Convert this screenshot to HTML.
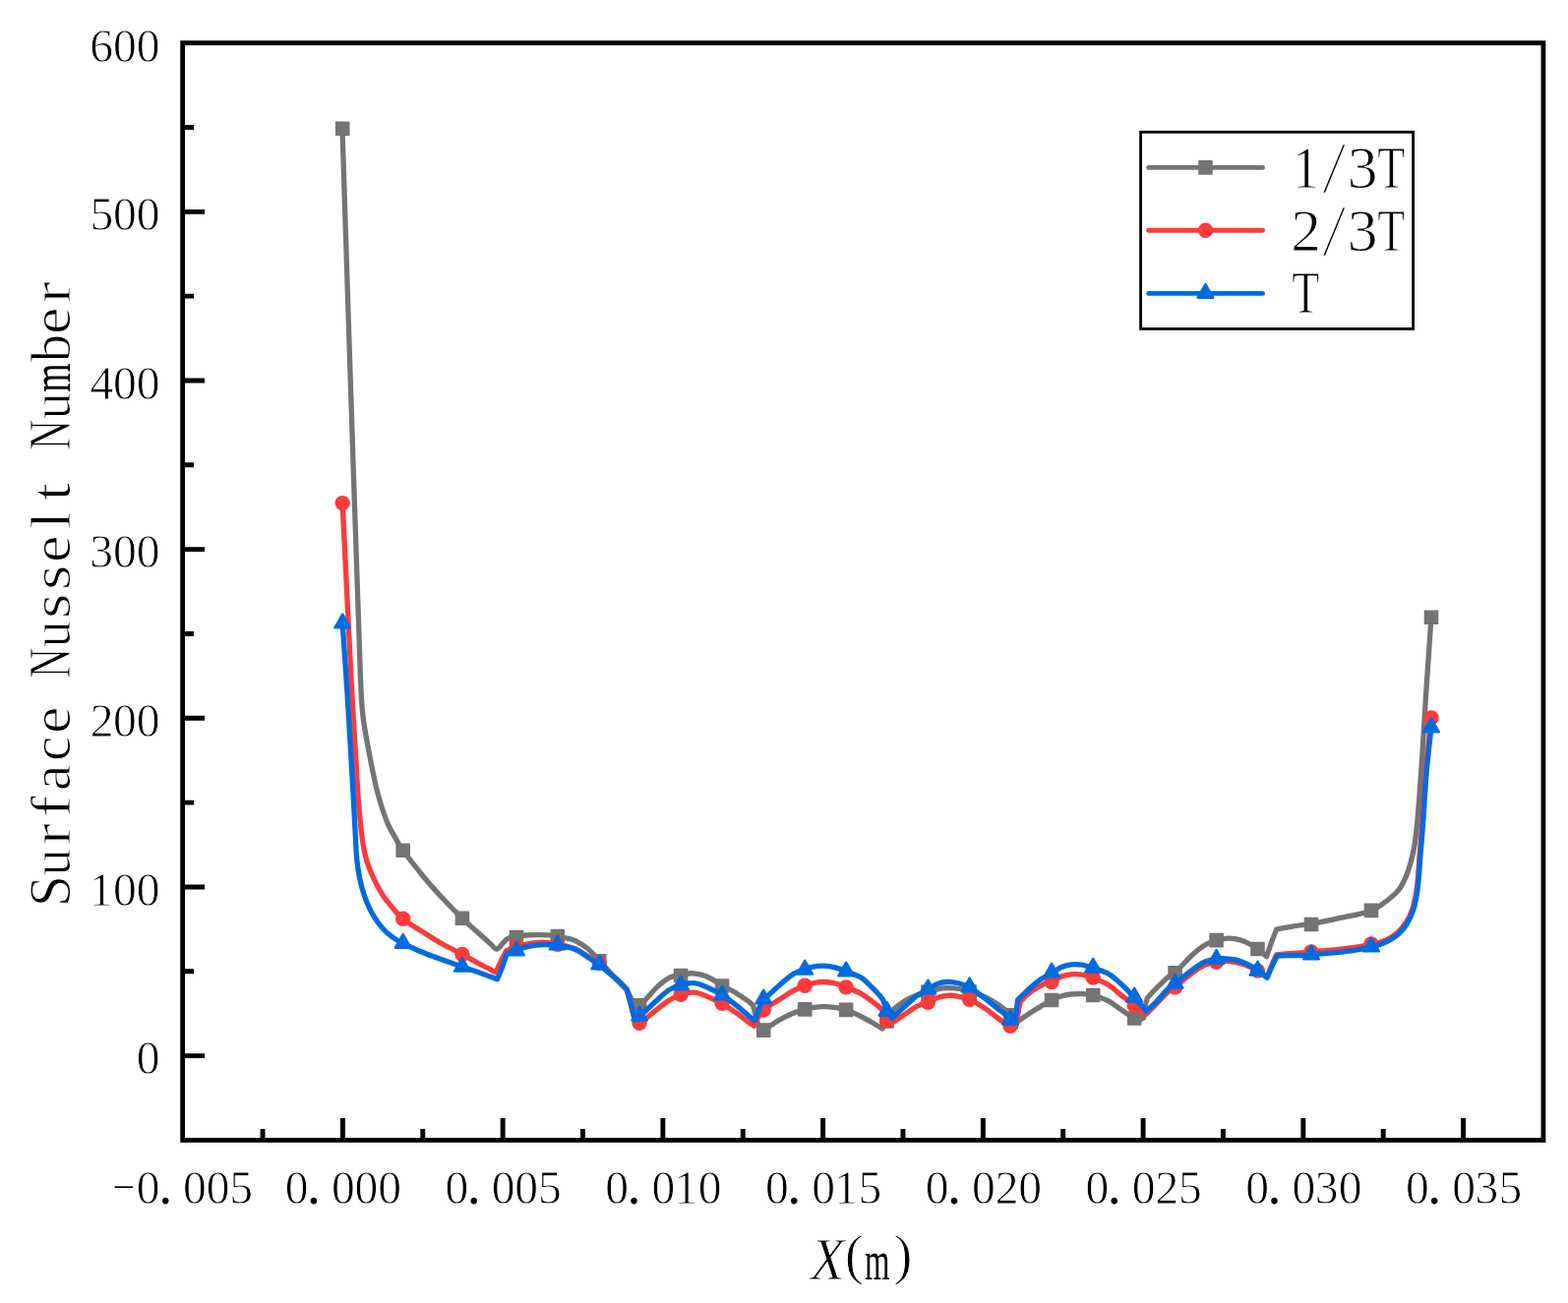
<!DOCTYPE html>
<html lang="en"><head><meta charset="utf-8"><title>Surface Nusselt Number</title>
<style>html,body{margin:0;padding:0;background:#fff}body{width:1594px;height:1325px;overflow:hidden}svg{display:block}text{font-family:"Liberation Serif","Noto Serif CJK SC",serif;fill:#000}.tk{font-size:47.6px;stroke:#fff;stroke-width:.8px;stroke-linejoin:round}.tt{font-size:58px;stroke:#fff;stroke-width:1px;stroke-linejoin:round}.it{font-style:italic}.nt{stroke:none}.sl{stroke-width:2.3px}.hy{stroke-width:2px;stroke-linejoin:miter}</style></head><body>
<svg width="1594" height="1325" viewBox="0 0 1594 1325">
<rect width="1594" height="1325" fill="#fff"/>
<g fill="none" stroke-linejoin="round" stroke-linecap="round" stroke-width="5.3">
<path stroke="#747474" d="M348 130.8C350.9 220.53 353.73 310.27 356.7 400C359.9 496.67 362.9 593.35 366.5 690C366.97 702.55 367.46 715.14 368.9 727.6C370.36 740.24 372.86 752.78 375.2 765.3C377.56 777.88 379.97 790.48 383 802.9C385.07 811.38 387.72 819.73 390.5 828C391.99 832.43 393.78 836.79 395.8 841C397.78 845.12 400.19 849.04 402.5 853C404.82 856.98 406.98 861.09 409.7 864.8C416.68 874.32 424.06 883.6 431.6 892.7C437.66 900 444.03 907.06 450.5 914C456.8 920.76 463.24 927.4 469.9 933.8C476.41 940.06 483.3 945.93 490 952C493.17 954.87 496.33 957.73 499.5 960.6C500.4 961.6 501.19 962.73 502.2 963.6C502.96 964.26 503.94 965.23 504.8 965.2C505.74 965.17 506.67 964 507.6 963.4C508.73 962.03 509.81 960.62 511 959.3C512.28 957.88 513.67 956.57 515 955.2C516.33 954.57 517.59 953.68 519 953.3C520.93 952.78 523 952.79 525 952.5C528.34 952.02 531.65 951.3 535 951C538.65 950.67 542.33 950.62 546 950.6C549.67 950.58 553.34 950.66 557 950.9C560.31 951.12 563.62 951.49 566.9 952C569.62 952.42 572.33 953.02 575 953.7C578.06 954.48 581.26 955.05 584.1 956.4C588.5 958.49 592.93 960.93 596.7 964C601.36 967.79 605.24 972.59 609.4 977C613.58 981.43 617.49 986.11 621.7 990.5C624.36 993.27 627.29 995.77 630 998.5C632.43 1000.94 634.73 1003.5 637.1 1006C638.4 1008.67 639.62 1011.38 641 1014C642.25 1016.38 643.45 1018.85 645 1021C645.62 1021.85 646.67 1022.33 647.5 1023C648.37 1022.83 649.42 1023.03 650.1 1022.5C652.82 1020.36 655.25 1017.58 657.7 1015C661.08 1011.44 663.99 1007.4 667.6 1004.1C671.49 1000.53 675.61 996.86 680.2 994.4C683.77 992.49 688.06 991.74 692.1 991C696.43 990.21 700.95 989.5 705.3 989.8C709.52 990.1 713.89 991.14 717.8 992.8C723.49 995.21 728.66 998.95 734.1 1002C739.12 1004.82 744.28 1007.41 749.2 1010.4C753.48 1013.01 757.68 1015.82 761.7 1018.8C763.12 1019.85 764.23 1021.27 765.5 1022.5C766.17 1025 766.85 1027.49 767.5 1030C768.19 1032.66 768.63 1035.4 769.5 1038C770.3 1040.4 771.09 1043 772.5 1045C773.33 1046.17 774.97 1046.67 776.2 1047.5C778.8 1045.83 781.4 1044.16 784 1042.5C787.03 1040.56 789.96 1038.44 793.1 1036.7C797.19 1034.44 801.38 1032.27 805.7 1030.5C809.75 1028.84 813.98 1027.57 818.2 1026.4C821.41 1025.51 824.7 1024.78 828 1024.3C831.17 1023.84 834.4 1023.55 837.6 1023.6C841.4 1023.65 845.23 1024.05 849 1024.6C852.77 1025.15 856.61 1025.67 860.2 1026.9C865.38 1028.67 870.37 1031.17 875.3 1033.6C879.57 1035.7 883.67 1038.14 887.8 1040.5C890.9 1042.27 893.93 1044.17 897 1046C898.53 1043.5 900.22 1041.08 901.6 1038.5C902.89 1036.08 903.64 1033.37 905 1031C906.01 1029.23 907.47 1027.73 908.7 1026.1C912.53 1023.27 916.15 1020.07 920.2 1017.6C923.58 1015.54 927.31 1013.98 931 1012.5C935.04 1010.88 939.23 1009.57 943.4 1008.3C946.56 1007.34 949.76 1006.39 953 1005.8C956.32 1005.19 959.73 1004.75 963.1 1004.7C967.06 1004.65 971.08 1004.93 975 1005.5C978.71 1006.03 982.43 1006.85 986 1008C991.23 1009.68 996.42 1011.68 1001.4 1014C1005.72 1016.01 1009.87 1018.46 1013.9 1021C1016.74 1022.79 1019.47 1024.81 1022 1027C1023.83 1028.58 1025.38 1030.5 1027 1032.3C1028.38 1033.83 1029.67 1035.43 1031 1037C1031.84 1037.99 1032.67 1039 1033.5 1040C1034.4 1039.2 1035.23 1038.31 1036.2 1037.6C1039.07 1035.48 1042.02 1033.46 1045 1031.5C1048.35 1029.29 1051.76 1027.17 1055.2 1025.1C1059.79 1022.34 1064.33 1019.42 1069.1 1017C1072.26 1015.39 1075.6 1014.01 1079 1013C1082.3 1012.01 1085.77 1011.38 1089.2 1011C1092.77 1010.61 1096.41 1010.54 1100 1010.7C1103.74 1010.87 1107.6 1011.03 1111.2 1012C1116.53 1013.43 1121.89 1015.38 1126.8 1017.9C1131.29 1020.21 1135.17 1023.67 1139.4 1026.5C1143.94 1029.54 1148.31 1033.06 1153.1 1035.5C1154.85 1036.39 1157.09 1036.6 1159 1036.5C1160.22 1036.44 1161.33 1035.5 1162.5 1035C1163.17 1030.67 1163.7 1026.31 1164.5 1022C1164.93 1019.67 1165.63 1017.4 1166.2 1015.1C1168.47 1012.57 1170.66 1009.96 1173 1007.5C1175.32 1005.06 1177.77 1002.74 1180.2 1000.4C1182.51 998.17 1184.7 995.79 1187.2 993.8C1189.47 991.99 1192.36 990.96 1194.5 989C1200.49 983.52 1205.64 977.04 1211.6 971.5C1215.5 967.87 1219.6 964.28 1224.1 961.5C1227.9 959.15 1232.24 957.5 1236.5 956.1C1239.54 955.1 1242.81 954.55 1246 954.3C1249.14 954.05 1252.41 954.06 1255.5 954.6C1258.91 955.19 1262.34 956.27 1265.5 957.7C1270 959.74 1274.41 962.22 1278.5 965C1281.77 967.22 1284.57 970.13 1287.6 972.7C1289.4 967.47 1291.1 962.2 1293 957C1294.47 952.96 1296.13 949 1297.7 945C1302.43 944.1 1307.15 943.11 1311.9 942.3C1316.35 941.54 1320.82 940.85 1325.3 940.3C1327.85 939.99 1330.47 940.17 1333 939.7C1343.81 937.67 1354.56 935.23 1365.3 932.8C1374.93 930.63 1384.96 929.29 1394.1 925.9C1399.59 923.86 1404.48 920.04 1409.2 916.5C1413.68 913.14 1418.24 909.52 1421.7 905.2C1424.94 901.16 1427.21 896.19 1429.3 891.4C1431.41 886.56 1432.9 881.41 1434.3 876.3C1435.77 870.94 1437 865.48 1437.9 860C1439.1 852.72 1439.88 845.35 1440.6 838C1441.65 827.35 1442.41 816.67 1443.2 806C1444.28 791.34 1445.26 776.67 1446.2 762C1447.36 744 1448.32 725.99 1449.5 708C1451.25 681.23 1453.17 654.47 1455 627.7"/>
<g fill="#747474" stroke="none" stroke-width="2.4"><rect x="340.9" y="123.5" width="14.6" height="14.6" rx="0.8"/><rect x="402.4" y="857.5" width="14.6" height="14.6" rx="0.8"/><rect x="462.6" y="926.5" width="14.6" height="14.6" rx="0.8"/><rect x="517.7" y="945.7" width="14.6" height="14.6" rx="0.8"/><rect x="559.5" y="944.7" width="14.6" height="14.6" rx="0.8"/><rect x="602" y="970.1" width="14.6" height="14.6" rx="0.8"/><rect x="642.8" y="1015.1" width="14.6" height="14.6" rx="0.8"/><rect x="684.8" y="984.7" width="14.6" height="14.6" rx="0.8"/><rect x="726.8" y="995.2" width="14.6" height="14.6" rx="0.8"/><rect x="768.9" y="1040.3" width="14.6" height="14.6" rx="0.8"/><rect x="810.9" y="1019.1" width="14.6" height="14.6" rx="0.8"/><rect x="852.8" y="1019.6" width="14.6" height="14.6" rx="0.8"/><rect x="894.3" y="1031.2" width="14.6" height="14.6" rx="0.8"/><rect x="936.1" y="1001.2" width="14.6" height="14.6" rx="0.8"/><rect x="978.3" y="1000.9" width="14.6" height="14.6" rx="0.8"/><rect x="1019.8" y="1025.1" width="14.6" height="14.6" rx="0.8"/><rect x="1061.8" y="1009.7" width="14.6" height="14.6" rx="0.8"/><rect x="1103.9" y="1004.7" width="14.6" height="14.6" rx="0.8"/><rect x="1145.9" y="1028.2" width="14.6" height="14.6" rx="0.8"/><rect x="1187.3" y="982" width="14.6" height="14.6" rx="0.8"/><rect x="1229.3" y="948.8" width="14.6" height="14.6" rx="0.8"/><rect x="1271.2" y="957.7" width="14.6" height="14.6" rx="0.8"/><rect x="1325.7" y="932.7" width="14.6" height="14.6" rx="0.8"/><rect x="1386.7" y="918.6" width="14.6" height="14.6" rx="0.8"/><rect x="1447.7" y="620.4" width="14.6" height="14.6" rx="0.8"/></g>
<path stroke="#fb3a3b" d="M348.2 511.6C351.3 574.4 354.23 637.21 357.5 700C358.63 721.78 360.08 743.53 361.4 765.3C362.41 782.03 363.19 798.79 364.5 815.5C365.49 828.02 366.59 840.57 368.3 853C369.32 860.43 370.61 867.92 372.7 875.1C374.58 881.55 377.36 887.79 380.2 893.9C382.8 899.49 385.69 905.01 389 910.2C391.56 914.21 394.72 917.86 397.8 921.5C401.52 925.89 404.93 930.74 409.4 934.3C417.03 940.37 425.8 945.14 434.1 950.4C439.33 953.71 444.6 956.97 450 960C456.54 963.67 463.29 966.95 469.9 970.5C476.63 974.12 483.26 977.91 490 981.5C494.66 983.98 499.4 986.3 504.1 988.7C505.73 985.13 507.3 981.54 509 978C510.54 974.8 512.16 971.64 513.8 968.5C514.16 967.81 514.6 967.17 515 966.5C518.33 965.33 521.64 964.09 525 963C528.31 961.92 531.61 960.72 535 960C538.34 959.29 541.79 958.91 545.2 958.7C548.79 958.48 552.42 958.45 556 958.7C559.65 958.95 563.31 959.46 566.9 960.2C572.68 961.39 578.66 962.35 584.1 964.5C588.6 966.28 592.58 969.37 596.7 972C600.95 974.71 605.24 977.4 609.2 980.5C613.58 983.93 617.54 987.9 621.7 991.6C624.47 994.06 627.33 996.43 630 999C632.43 1001.33 634.67 1003.87 637 1006.3C638.33 1010.87 639.76 1015.41 641 1020C642.43 1025.31 643.38 1030.77 645 1036C645.55 1037.77 646.67 1039.33 647.5 1041C648.43 1040.73 649.48 1040.71 650.3 1040.2C652.98 1038.54 655.48 1036.46 658 1034.5C661.25 1031.96 664.34 1029.22 667.6 1026.7C671.74 1023.49 675.77 1020.06 680.2 1017.3C683.94 1014.96 687.93 1012.76 692.1 1011.4C696.3 1010.03 700.96 1008.85 705.3 1009.1C709.53 1009.35 713.77 1011.28 717.8 1012.9C723.17 1015.05 728.45 1017.57 733.5 1020.4C738.92 1023.44 744.09 1026.95 749.2 1030.5C753.49 1033.48 757.47 1036.92 761.7 1040C763.27 1041.15 764.97 1042.13 766.6 1043.2C768.07 1040.13 769.28 1036.91 771 1034C772.48 1031.51 774.47 1029.33 776.2 1027C778.8 1025.17 781.34 1023.23 784 1021.5C786.97 1019.57 790.1 1017.88 793.1 1016C797.33 1013.35 801.34 1010.3 805.7 1007.9C809.7 1005.7 813.93 1003.81 818.2 1002.2C821.36 1001.01 824.68 1000.13 828 999.5C831.15 998.9 834.41 998.42 837.6 998.5C841.41 998.59 845.29 999.11 849 1000C852.82 1000.91 856.53 1002.45 860.2 1003.9C865.29 1005.91 870.53 1007.76 875.3 1010.4C879.73 1012.86 883.71 1016.16 887.8 1019.2C890.31 1021.06 892.97 1022.86 895.1 1025.1C896.7 1026.79 897.94 1028.91 899 1031C900.07 1033.11 900.37 1035.65 901.5 1037.7C902.2 1038.98 903.5 1039.9 904.5 1041C906.33 1040 908.24 1039.11 910 1038C913.47 1035.81 916.79 1033.38 920.2 1031.1C924.02 1028.55 927.64 1025.58 931.7 1023.5C935.37 1021.62 939.58 1020.82 943.4 1019.2C946.68 1017.82 949.66 1015.67 953 1014.5C956.23 1013.37 959.7 1012.49 963.1 1012.3C967.03 1012.09 971.11 1012.58 975 1013.3C978.54 1013.95 982.13 1014.9 985.4 1016.4C990.93 1018.93 996.29 1022.06 1001.4 1025.4C1005.79 1028.26 1009.66 1031.9 1013.9 1035C1016.53 1036.93 1019.24 1038.76 1022 1040.5C1023.64 1041.53 1025.31 1042.62 1027.1 1043.3C1028.81 1043.95 1030.7 1044.1 1032.5 1044.5C1033.33 1039.67 1034.15 1034.83 1035 1030C1035.65 1026.33 1036.33 1022.67 1037 1019C1039 1016.83 1040.81 1014.45 1043 1012.5C1045.67 1010.12 1048.61 1007.97 1051.6 1006C1054.27 1004.24 1057.08 1002.59 1060 1001.3C1062.91 1000.02 1066.18 999.57 1069.1 998.3C1072.52 996.81 1075.52 994.28 1079 993C1082.22 991.81 1085.76 991.19 1089.2 990.9C1092.76 990.59 1096.46 990.68 1100 991.2C1103.69 991.74 1107.41 992.75 1110.9 994.1C1116.34 996.21 1121.84 998.55 1126.8 1001.6C1131.34 1004.39 1135.21 1008.26 1139.4 1011.6C1143.87 1015.16 1148.31 1018.77 1152.8 1022.3C1154.84 1023.9 1156.89 1025.49 1159 1027C1161.03 1028.46 1163.13 1029.8 1165.2 1031.2C1167.47 1028.97 1169.77 1026.76 1172 1024.5C1174.77 1021.7 1177.44 1018.81 1180.2 1016C1182.68 1013.48 1185.04 1010.81 1187.7 1008.5C1189.84 1006.64 1192.37 1005.26 1194.6 1003.5C1200.33 998.99 1205.75 994.04 1211.6 989.7C1215.58 986.74 1219.65 983.68 1224.1 981.6C1227.98 979.78 1232.37 978.83 1236.6 978C1239.67 977.4 1242.87 977.23 1246 977.3C1249.17 977.37 1252.39 977.74 1255.5 978.4C1259.73 979.3 1263.97 980.45 1268 982C1271.6 983.38 1275.04 985.28 1278.4 987.2C1281.74 989.11 1284.87 991.4 1288.1 993.5C1289.73 989.33 1291.28 985.13 1293 981C1294.41 977.63 1296 974.33 1297.5 971C1302.3 970.5 1307.09 969.93 1311.9 969.5C1315.26 969.2 1318.63 969.04 1322 968.8C1325.67 968.54 1329.34 968.32 1333 968C1343.77 967.05 1354.57 966.33 1365.3 965C1374.74 963.83 1384.19 962.41 1393.5 960.5C1398.82 959.41 1404.32 958.25 1409.2 956C1413.72 953.92 1418.02 950.86 1421.7 947.5C1424.96 944.53 1427.7 940.78 1430 937C1432.46 932.95 1434.53 928.51 1436 924C1437.79 918.51 1438.82 912.71 1439.8 907C1440.68 901.85 1441.12 896.61 1441.6 891.4C1442.19 884.94 1442.51 878.46 1443 872C1443.31 868 1443.68 864 1444 860C1444.68 851.33 1445.38 842.67 1446 834C1447.21 817 1448.03 799.97 1449.5 783C1451.03 765.31 1453.17 747.67 1455 730"/>
<g fill="#fb3a3b" stroke="none" stroke-width="2.4"><circle cx="348.2" cy="511.6" r="7.7"/><circle cx="409.7" cy="934.3" r="7.7"/><circle cx="469.9" cy="970.5" r="7.7"/><circle cx="525" cy="963.3" r="7.7"/><circle cx="566.8" cy="960.2" r="7.7"/><circle cx="609.3" cy="979.6" r="7.7"/><circle cx="650.1" cy="1040.3" r="7.7"/><circle cx="692.1" cy="1011.4" r="7.7"/><circle cx="734.1" cy="1020.4" r="7.7"/><circle cx="776.2" cy="1027.1" r="7.7"/><circle cx="818.2" cy="1002.2" r="7.7"/><circle cx="860.1" cy="1003.9" r="7.7"/><circle cx="901.6" cy="1037.8" r="7.7"/><circle cx="943.4" cy="1019.2" r="7.7"/><circle cx="985.6" cy="1016.4" r="7.7"/><circle cx="1027.1" cy="1043.2" r="7.7"/><circle cx="1069.1" cy="998.5" r="7.7"/><circle cx="1111.2" cy="994.1" r="7.7"/><circle cx="1153.2" cy="1022.5" r="7.7"/><circle cx="1194.6" cy="1003.9" r="7.7"/><circle cx="1236.6" cy="978.4" r="7.7"/><circle cx="1278.5" cy="987.1" r="7.7"/><circle cx="1333" cy="968" r="7.7"/><circle cx="1394" cy="959.9" r="7.7"/><circle cx="1455" cy="730" r="7.7"/></g>
<path stroke="#006be0" d="M348.2 634C349.7 656 351.29 677.99 352.7 700C354.09 721.76 355.32 743.53 356.6 765.3C357.59 782.03 358.56 798.76 359.5 815.5C360.2 828 360.79 840.5 361.5 853C361.92 860.37 362.13 867.77 362.9 875.1C363.56 881.4 364.51 887.7 365.8 893.9C366.94 899.4 368.4 904.88 370.2 910.2C371.94 915.35 373.97 920.45 376.4 925.3C378.57 929.65 381.16 933.86 384 937.8C386.59 941.39 389.51 944.84 392.7 947.9C395.35 950.44 398.45 952.54 401.5 954.6C404.12 956.37 406.88 957.97 409.7 959.4C414.71 961.94 419.83 964.29 425 966.5C430.9 969.02 436.88 971.38 442.9 973.6C451.98 976.95 461.15 980.04 470.3 983.2C476.85 985.47 483.47 987.56 490 989.9C495.2 991.76 500.33 993.83 505.5 995.8C507 992.2 508.65 988.66 510 985C511.85 979.99 513.4 974.87 515.1 969.8C518.4 968.53 521.66 967.16 525 966C528.36 964.83 531.74 963.64 535.2 962.8C538.48 962 541.84 961.47 545.2 961.1C548.78 960.7 552.4 960.47 556 960.5C559.5 960.53 563.05 960.72 566.5 961.3C572.41 962.29 578.55 963.1 584.1 965.2C588.62 966.9 592.59 970.06 596.7 972.7C600.85 975.36 604.96 978.13 608.9 981.1C613.3 984.43 617.49 988.03 621.7 991.6C624.53 994 627.3 996.46 630 999C632.44 1001.29 634.73 1003.73 637.1 1006.1C638.4 1010.73 639.75 1015.35 641 1020C642.52 1025.65 643.93 1031.33 645.4 1037C646.97 1035.73 648.56 1034.49 650.1 1033.2C652.66 1031.06 655.23 1028.94 657.7 1026.7C661.07 1023.64 664.21 1020.33 667.6 1017.3C671.71 1013.63 675.63 1009.57 680.2 1006.6C683.89 1004.2 688.16 1002.37 692.4 1001.2C696.53 1000.07 701.08 999.32 705.3 999.7C709.55 1000.08 713.81 1001.8 717.8 1003.5C723.51 1005.93 729.11 1008.83 734.4 1012.1C739.58 1015.3 744.4 1019.13 749.2 1022.9C753.5 1026.27 757.49 1030.02 761.7 1033.5C763.46 1034.95 765.3 1036.3 767.1 1037.7C768.57 1033.97 770.01 1030.22 771.5 1026.5C772.64 1023.66 773.83 1020.83 775 1018C778 1015.17 780.97 1012.3 784 1009.5C787 1006.73 790 1003.96 793.1 1001.3C797.23 997.76 801.14 993.77 805.7 990.9C809.5 988.51 813.94 987.05 818.2 985.5C821.38 984.35 824.68 983.38 828 982.8C831.15 982.25 834.41 981.95 837.6 982.1C841.41 982.28 845.28 982.9 849 983.8C852.75 984.7 856.4 986.09 860 987.5C865.17 989.52 870.69 991.13 875.3 994.1C879.96 997.1 883.75 1001.52 887.8 1005.4C889.98 1007.49 892.01 1009.73 894 1012C895.28 1013.46 896.4 1015.07 897.6 1016.6C898.9 1020.07 899.88 1023.69 901.5 1027C902.91 1029.89 904.97 1032.47 906.7 1035.2C908.8 1033.3 910.89 1031.39 913 1029.5C915.39 1027.36 917.8 1025.23 920.2 1023.1C924.03 1019.7 927.59 1015.91 931.7 1012.9C935.32 1010.25 939.5 1008.37 943.4 1006.1C946.6 1004.24 949.59 1001.82 953 1000.5C956.16 999.28 959.71 998.58 963.1 998.5C967.05 998.41 971.15 999.05 975 1000C978.68 1000.91 982.43 1002.19 985.7 1004.1C991.23 1007.32 996.26 1011.52 1001.4 1015.4C1005.66 1018.62 1009.7 1022.11 1013.9 1025.4C1016.56 1027.48 1019.37 1029.39 1022 1031.5C1023.77 1032.92 1025.22 1034.8 1027.1 1036C1028.62 1036.97 1030.5 1037.33 1032.2 1038C1032.97 1031 1033.73 1024 1034.5 1017C1038.1 1013.5 1041.57 1009.86 1045.3 1006.5C1049.34 1002.86 1053.37 999.11 1057.8 996C1061.3 993.54 1065.4 991.98 1069.1 989.8C1072.47 987.81 1075.47 985.06 1079 983.5C1082.17 982.1 1085.75 981.28 1089.2 980.9C1092.75 980.51 1096.47 980.65 1100 981.2C1103.7 981.78 1107.33 983.09 1110.9 984.3C1116.26 986.12 1121.92 987.56 1126.8 990.3C1131.42 992.89 1135.45 996.69 1139.4 1000.3C1144.25 1004.73 1148.67 1009.63 1153.2 1014.4C1155.54 1016.86 1157.77 1019.44 1160 1022C1161.77 1024.04 1163.47 1026.13 1165.2 1028.2C1168.53 1025.17 1172.06 1022.32 1175.2 1019.1C1179.56 1014.62 1183.26 1009.47 1187.7 1005.1C1189.73 1003.1 1192.34 1001.75 1194.6 1000C1200.31 995.58 1205.78 990.86 1211.6 986.6C1215.62 983.66 1219.62 980.42 1224.1 978.4C1227.96 976.66 1232.38 975.99 1236.6 975.3C1239.68 974.79 1242.87 974.7 1246 974.8C1249.17 974.9 1252.43 975.13 1255.5 975.9C1259.76 976.96 1264.05 978.39 1268 980.3C1271.69 982.09 1275.01 984.66 1278.4 987C1281.71 989.29 1284.87 991.8 1288.1 994.2C1289.73 990.47 1291.31 986.71 1293 983C1294.68 979.31 1296.47 975.67 1298.2 972C1302.77 971.83 1307.33 971.59 1311.9 971.5C1315.53 971.43 1319.17 971.62 1322.8 971.5C1326.2 971.39 1329.6 971.09 1333 970.8C1343.77 969.89 1354.58 969.25 1365.3 967.9C1374.88 966.69 1384.5 965.24 1393.9 963.1C1399.14 961.91 1404.39 960.22 1409.2 957.9C1413.65 955.75 1418.01 952.97 1421.7 949.7C1425.11 946.67 1428.1 942.9 1430.5 939C1433.13 934.73 1435.26 929.98 1436.8 925.2C1438.62 919.55 1439.63 913.58 1440.6 907.7C1441.49 902.31 1441.92 896.84 1442.4 891.4C1442.95 885.11 1443.22 878.8 1443.7 872.5C1444.02 868.33 1444.46 864.17 1444.8 860C1445.5 851.44 1446.18 842.87 1446.8 834.3C1448.02 817.34 1448.83 800.34 1450.3 783.4C1451.56 768.91 1453.43 754.47 1455 740"/>
<g fill="#006be0" stroke="#006be0" stroke-width="2.4"><path d="M348.2 624.6L356 638.3L340.4 638.3Z"/><path d="M409.7 950L417.5 963.7L401.9 963.7Z"/><path d="M469.9 973.8L477.7 987.5L462.1 987.5Z"/><path d="M525 957.6L532.8 971.3L517.2 971.3Z"/><path d="M566.8 951.7L574.6 965.4L559 965.4Z"/><path d="M609.3 971.7L617.1 985.4L601.5 985.4Z"/><path d="M650.1 1023.8L657.9 1037.5L642.3 1037.5Z"/><path d="M692.1 992.7L699.9 1006.4L684.3 1006.4Z"/><path d="M734.1 1002.7L741.9 1016.4L726.3 1016.4Z"/><path d="M776.2 1006.7L784 1020.4L768.4 1020.4Z"/><path d="M818.2 976.8L826 990.5L810.4 990.5Z"/><path d="M860.1 978.6L867.9 992.3L852.3 992.3Z"/><path d="M901.6 1019L909.4 1032.7L893.8 1032.7Z"/><path d="M943.4 996.7L951.2 1010.4L935.6 1010.4Z"/><path d="M985.6 994.7L993.4 1008.4L977.8 1008.4Z"/><path d="M1027.1 1027.9L1034.9 1041.6L1019.3 1041.6Z"/><path d="M1069.1 979.9L1076.9 993.6L1061.3 993.6Z"/><path d="M1111.2 974.9L1119 988.6L1103.4 988.6Z"/><path d="M1153.2 1004.8L1161 1018.5L1145.4 1018.5Z"/><path d="M1194.6 991L1202.4 1004.7L1186.8 1004.7Z"/><path d="M1236.6 966.1L1244.4 979.8L1228.8 979.8Z"/><path d="M1278.5 977.8L1286.3 991.5L1270.7 991.5Z"/><path d="M1333 961.6L1340.8 975.3L1325.2 975.3Z"/><path d="M1394 953.7L1401.8 967.4L1386.2 967.4Z"/><path d="M1455 730.6L1462.8 744.3L1447.2 744.3Z"/></g>
</g>
<g stroke="#000" stroke-width="4.8" fill="none" stroke-linecap="butt">
<rect x="185.66" y="43.7" width="1383.29" height="1115.72"/>
<path stroke-width="4.9" d="M348.4 1159.42V1137.02M511.14 1159.42V1137.02M673.88 1159.42V1137.02M836.62 1159.42V1137.02M999.36 1159.42V1137.02M1162.1 1159.42V1137.02M1324.84 1159.42V1137.02M1487.58 1159.42V1137.02M267.03 1159.42V1148.02M429.77 1159.42V1148.02M592.51 1159.42V1148.02M755.25 1159.42V1148.02M917.99 1159.42V1148.02M1080.73 1159.42V1148.02M1243.47 1159.42V1148.02M1406.21 1159.42V1148.02M185.66 1073.6H208.06M185.66 901.95H208.06M185.66 730.3H208.06M185.66 558.65H208.06M185.66 387H208.06M185.66 215.35H208.06M185.66 987.77H197.06M185.66 816.12H197.06M185.66 644.47H197.06M185.66 472.82H197.06M185.66 301.17H197.06M185.66 129.52H197.06"/>
</g>
<g>
<text class="tk"><tspan x="138.7" y="1092.4">0</tspan></text>
<text class="tk"><tspan x="90.84" y="920.75">1</tspan><tspan x="115.1" y="920.75">0</tspan><tspan x="138.7" y="920.75">0</tspan></text>
<text class="tk"><tspan x="91.77" y="749.1">2</tspan><tspan x="115.1" y="749.1">0</tspan><tspan x="138.7" y="749.1">0</tspan></text>
<text class="tk"><tspan x="91.29" y="577.45">3</tspan><tspan x="115.1" y="577.45">0</tspan><tspan x="138.7" y="577.45">0</tspan></text>
<text class="tk"><tspan x="91.41" y="405.8">4</tspan><tspan x="115.1" y="405.8">0</tspan><tspan x="138.7" y="405.8">0</tspan></text>
<text class="tk"><tspan x="91.55" y="234.15">5</tspan><tspan x="115.1" y="234.15">0</tspan><tspan x="138.7" y="234.15">0</tspan></text>
<text class="tk"><tspan x="91.19" y="62.5">6</tspan><tspan x="115.1" y="62.5">0</tspan><tspan x="138.7" y="62.5">0</tspan></text>
<text class="tk"><tspan x="111.59" y="1218.9" textLength="28.46" lengthAdjust="spacingAndGlyphs" class="hy">-</tspan><tspan x="138.86" y="1223.5">0</tspan><tspan x="161.16" y="1223.5" class="nt" font-size="56">.</tspan><tspan x="186.06" y="1223.5">0</tspan><tspan x="209.66" y="1223.5">0</tspan><tspan x="233.31" y="1223.5">5</tspan></text>
<text class="tk"><tspan x="289.8" y="1223.5">0</tspan><tspan x="312.1" y="1223.5" class="nt" font-size="56">.</tspan><tspan x="337" y="1223.5">0</tspan><tspan x="360.6" y="1223.5">0</tspan><tspan x="384.2" y="1223.5">0</tspan></text>
<text class="tk"><tspan x="452.54" y="1223.5">0</tspan><tspan x="474.84" y="1223.5" class="nt" font-size="56">.</tspan><tspan x="499.74" y="1223.5">0</tspan><tspan x="523.34" y="1223.5">0</tspan><tspan x="546.99" y="1223.5">5</tspan></text>
<text class="tk"><tspan x="615.28" y="1223.5">0</tspan><tspan x="637.58" y="1223.5" class="nt" font-size="56">.</tspan><tspan x="662.48" y="1223.5">0</tspan><tspan x="685.42" y="1223.5">1</tspan><tspan x="709.68" y="1223.5">0</tspan></text>
<text class="tk"><tspan x="778.02" y="1223.5">0</tspan><tspan x="800.32" y="1223.5" class="nt" font-size="56">.</tspan><tspan x="825.22" y="1223.5">0</tspan><tspan x="848.16" y="1223.5">1</tspan><tspan x="872.47" y="1223.5">5</tspan></text>
<text class="tk"><tspan x="940.76" y="1223.5">0</tspan><tspan x="963.06" y="1223.5" class="nt" font-size="56">.</tspan><tspan x="987.96" y="1223.5">0</tspan><tspan x="1011.83" y="1223.5">2</tspan><tspan x="1035.16" y="1223.5">0</tspan></text>
<text class="tk"><tspan x="1103.5" y="1223.5">0</tspan><tspan x="1125.8" y="1223.5" class="nt" font-size="56">.</tspan><tspan x="1150.7" y="1223.5">0</tspan><tspan x="1174.57" y="1223.5">2</tspan><tspan x="1197.95" y="1223.5">5</tspan></text>
<text class="tk"><tspan x="1266.24" y="1223.5">0</tspan><tspan x="1288.54" y="1223.5" class="nt" font-size="56">.</tspan><tspan x="1313.44" y="1223.5">0</tspan><tspan x="1336.83" y="1223.5">3</tspan><tspan x="1360.64" y="1223.5">0</tspan></text>
<text class="tk"><tspan x="1428.98" y="1223.5">0</tspan><tspan x="1451.28" y="1223.5" class="nt" font-size="56">.</tspan><tspan x="1476.18" y="1223.5">0</tspan><tspan x="1499.57" y="1223.5">3</tspan><tspan x="1523.43" y="1223.5">5</tspan></text>
</g>
<text class="tt" transform="translate(71 920.5) rotate(-90)"><tspan x="-1.52" y="0" textLength="31.76" lengthAdjust="spacingAndGlyphs" font-size="61.5">S</tspan><tspan x="29.98" y="0" textLength="27.25" lengthAdjust="spacingAndGlyphs" font-size="57">u</tspan><tspan x="61.22" y="0" textLength="21.83" lengthAdjust="spacingAndGlyphs" font-size="57">r</tspan><tspan x="89.58" y="0" textLength="21.83" lengthAdjust="spacingAndGlyphs" font-size="57">f</tspan><tspan x="116.36" y="0" textLength="26.97" lengthAdjust="spacingAndGlyphs" font-size="57">a</tspan><tspan x="146.64" y="0" font-size="57">c</tspan><tspan x="174.63" y="0" textLength="27.46" lengthAdjust="spacingAndGlyphs" font-size="57">e</tspan> <tspan x="231.03" y="0" textLength="30.7" lengthAdjust="spacingAndGlyphs" font-size="61.5">N</tspan><tspan x="261.98" y="0" textLength="27.25" lengthAdjust="spacingAndGlyphs" font-size="57">u</tspan><tspan x="291.59" y="0" textLength="25.51" lengthAdjust="spacingAndGlyphs" font-size="57">s</tspan><tspan x="320.59" y="0" textLength="25.51" lengthAdjust="spacingAndGlyphs" font-size="57">s</tspan><tspan x="348.63" y="0" textLength="27.46" lengthAdjust="spacingAndGlyphs" font-size="57">e</tspan><tspan x="382.39" y="0" textLength="18.21" lengthAdjust="spacingAndGlyphs" font-size="57">l</tspan><tspan x="411.27" y="0" textLength="18.21" lengthAdjust="spacingAndGlyphs" font-size="57">t</tspan> <tspan x="463.03" y="0" textLength="30.7" lengthAdjust="spacingAndGlyphs" font-size="61.5">N</tspan><tspan x="493.98" y="0" textLength="27.25" lengthAdjust="spacingAndGlyphs" font-size="57">u</tspan><tspan x="521.71" y="0" textLength="29.38" lengthAdjust="spacingAndGlyphs" class="nt" font-size="57">m</tspan><tspan x="552.34" y="0" font-size="57">b</tspan><tspan x="580.63" y="0" textLength="27.46" lengthAdjust="spacingAndGlyphs" font-size="57">e</tspan><tspan x="612.22" y="0" textLength="21.83" lengthAdjust="spacingAndGlyphs" font-size="57">r</tspan></text>
<text class="tt"><tspan x="824.09" y="1300.5" textLength="34.78" lengthAdjust="spacingAndGlyphs" class="it" font-size="61.5">X</tspan><tspan x="858.65" y="1295">(</tspan><tspan x="878.91" y="1300.5" textLength="25.5" lengthAdjust="spacingAndGlyphs" class="nt" font-size="57">m</tspan><tspan x="908.23" y="1295">)</tspan></text>
<rect x="1159.6" y="134.3" width="277" height="200.1" fill="#fff" stroke="#000" stroke-width="2.8"/>
<g stroke-linecap="round" stroke-width="4.9" fill="none">
<path stroke="#747474" d="M1167.6 170.4H1283.6"/>
<g fill="#747474" stroke="none" stroke-width="2.4" stroke-linejoin="round"><rect x="1218.2" y="163.1" width="14.6" height="14.6" rx="0.8"/></g>
<path stroke="#fb3a3b" d="M1167.6 234.3H1283.6"/>
<g fill="#fb3a3b" stroke="none" stroke-width="2.4" stroke-linejoin="round"><circle cx="1225.5" cy="234.3" r="7.7"/></g>
<path stroke="#006be0" d="M1167.6 298.4H1283.6"/>
<g fill="#006be0" stroke="#006be0" stroke-width="2.4" stroke-linejoin="round"><path d="M1225.5 289L1233.3 302.7L1217.7 302.7Z"/></g>
</g>
<text class="tt"><tspan x="1314.33" y="191.2" textLength="26.27" lengthAdjust="spacingAndGlyphs" font-size="61.5">1</tspan><tspan x="1343.55" y="196.2" textLength="25.5" lengthAdjust="spacingAndGlyphs" class="sl" font-size="76">/</tspan><tspan x="1369.65" y="191.2" font-size="61.5">3</tspan><tspan x="1400.17" y="191.2" textLength="28.2" lengthAdjust="spacingAndGlyphs" font-size="61.5">T</tspan></text>
<text class="tt"><tspan x="1312.27" y="254.6" font-size="61.5">2</tspan><tspan x="1343.55" y="259.6" textLength="25.5" lengthAdjust="spacingAndGlyphs" class="sl" font-size="76">/</tspan><tspan x="1369.65" y="254.6" font-size="61.5">3</tspan><tspan x="1400.17" y="254.6" textLength="28.2" lengthAdjust="spacingAndGlyphs" font-size="61.5">T</tspan></text>
<text class="tt"><tspan x="1313.17" y="317.9" textLength="28.2" lengthAdjust="spacingAndGlyphs" font-size="61.5">T</tspan></text>
</svg></body></html>
